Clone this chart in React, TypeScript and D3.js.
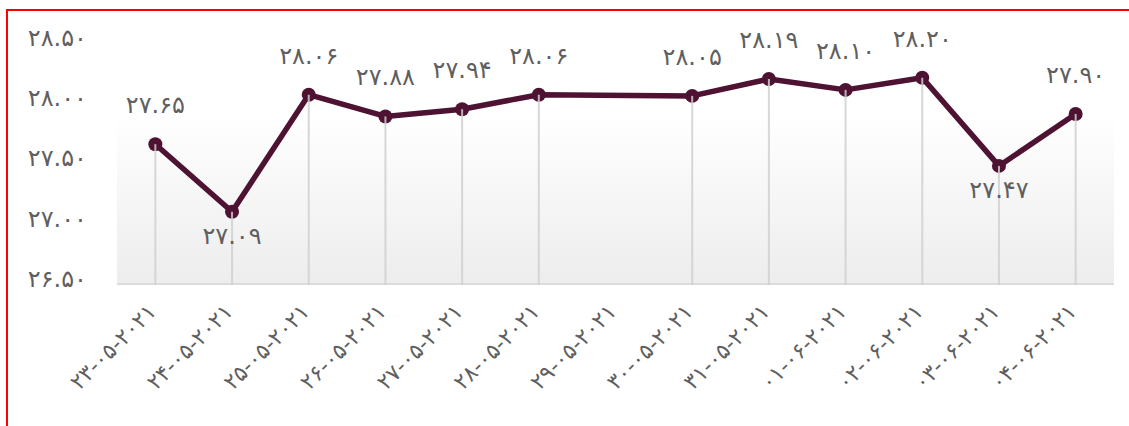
import React from "react";
import * as d3 from "d3";

const categories = [
  "23-05-2021", "24-05-2021", "25-05-2021", "26-05-2021", "27-05-2021",
  "28-05-2021", "29-05-2021", "30-05-2021", "31-05-2021", "01-06-2021",
  "02-06-2021", "03-06-2021", "04-06-2021",
];
const values: (number | null)[] = [
  27.65, 27.09, 28.06, 27.88, 27.94, 28.06, null, 28.05, 28.19, 28.1, 28.2, 27.47, 27.9,
];
const labelSides = ["top", "bottom", "top", "top", "top", "top", "top", "top", "top", "top", "top", "bottom", "top"];
const yTicks = [26.5, 27.0, 27.5, 28.0, 28.5];

const FA = "۰۱۲۳۴۵۶۷۸۹";
const toFa = (s: string) => s.replace(/[0-9]/g, (d) => FA[+d]);

const W = 1129, H = 426;
const left = 117, right = 1114, top = 41.6, bottom = 283;
const FONT = "'DejaVu Sans', sans-serif";
const TEXT = "#5f5f5f";
const LINE = "#4e1232";

export default function App() {
  const x = d3.scaleBand<string>().domain(categories).range([left, right]).padding(0);
  const y = d3.scaleLinear().domain([26.5, 28.5]).range([bottom, top]);
  const cx = (c: string) => (x(c) as number) + x.bandwidth() / 2;
  const pts = categories
    .map((c, i) => ({ c, v: values[i], side: labelSides[i] }))
    .filter((p) => p.v !== null) as { c: string; v: number; side: string }[];
  const line = d3.line<{ c: string; v: number }>().x((d) => cx(d.c)).y((d) => y(d.v));

  return (
    <svg width={W} height={H} style={{ position: "absolute", left: 0, top: 0 }} fontFamily={FONT}>
      <defs>
        <linearGradient id="bg" x1="0" y1="0" x2="0" y2="1">
          <stop offset="0" stopColor="#ffffff" />
          <stop offset="0.3" stopColor="#ffffff" />
          <stop offset="1" stopColor="#ededed" />
        </linearGradient>
      </defs>
      <rect x={0} y={0} width={W} height={H} fill="#fff" />
      <rect x={left} y={top} width={right - left} height={bottom - top} fill="url(#bg)" />
      <line x1={left} x2={right} y1={bottom + 1} y2={bottom + 1} stroke="#dcdcdc" strokeWidth={2} />
      {yTicks.map((t) => (
        <text key={t} x={87} y={y(t) + 4} textAnchor="end" fontSize={24} fill={TEXT} letterSpacing={2.5}>
          {toFa(t.toFixed(2))}
        </text>
      ))}
      <path d={line(pts) as string} fill="none" stroke={LINE} strokeWidth={5.5} strokeLinejoin="round" />
      {pts.map((p) => (
        <circle key={p.c} cx={cx(p.c)} cy={y(p.v)} r={7} fill={LINE} />
      ))}
      {pts.map((p) => (
        <line key={p.c} x1={cx(p.c)} x2={cx(p.c)} y1={y(p.v)} y2={bottom + 2} stroke="#d0d0d0" strokeOpacity={0.85} strokeWidth={2} />
      ))}
      {pts.map((p) => (
        <text key={p.c} x={cx(p.c)} y={p.side === "top" ? y(p.v) - 31 : y(p.v) + 32} textAnchor="middle" fontSize={24} fill={TEXT} letterSpacing={2}>
          {toFa(p.v.toFixed(2))}
        </text>
      ))}
      {categories.map((c) => (
        <text key={c} transform={`translate(${cx(c) + 2},${bottom + 30}) rotate(-45)`} textAnchor="end" fontSize={22} fill={TEXT} letterSpacing={1.5} direction="ltr">
          {toFa(c)}
        </text>
      ))}
      <rect x={7} y={10} width={W} height={H} fill="none" stroke="#ff0000" strokeWidth={2} />
    </svg>
  );
}
